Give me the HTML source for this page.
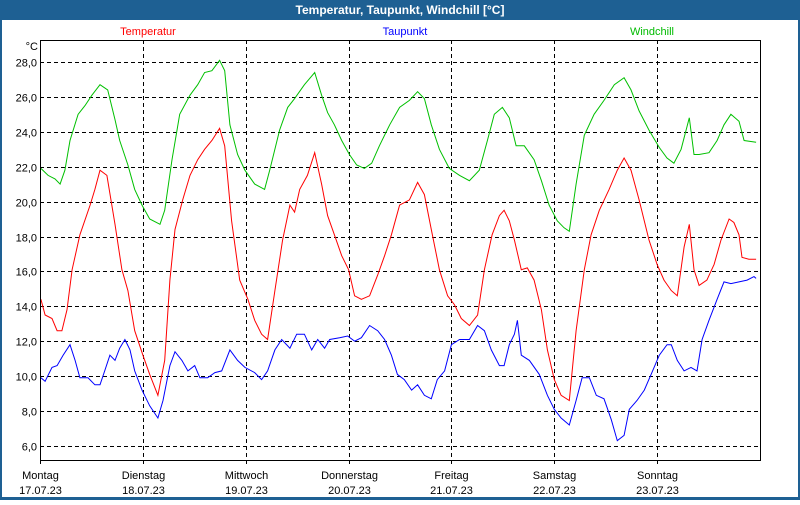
<!DOCTYPE html>
<html><head><meta charset="utf-8"><style>
body{margin:0;width:800px;height:500px;overflow:hidden;background:#fff;font-family:"Liberation Sans",sans-serif}
</style></head><body>
<svg width="800" height="500" xmlns="http://www.w3.org/2000/svg" font-family="Liberation Sans, sans-serif">
<rect x="0" y="0" width="800" height="500" fill="#1e6093"/>
<rect x="2" y="20" width="796" height="477" fill="#fff"/>
<text x="400" y="14" fill="#fff" font-size="12" font-weight="bold" text-anchor="middle">Temperatur, Taupunkt, Windchill [°C]</text>
<text x="148" y="35" fill="#ff0000" font-size="11" text-anchor="middle">Temperatur</text>
<text x="405" y="35" fill="#0000ff" font-size="11" text-anchor="middle">Taupunkt</text>
<text x="652" y="35" fill="#00bb00" font-size="11" text-anchor="middle">Windchill</text>
<text x="38" y="50" fill="#000" font-size="11" text-anchor="end">°C</text>
<g id="grid"></g>
<g id="series"></g>
<rect x="40.5" y="40.5" width="720" height="420" fill="none" stroke="#000" stroke-width="1"/>
<g id="labels"></g>
</svg>
<script>
const yTicks=[6,8,10,12,14,16,18,20,22,24,26,28];
const dayNames=["Montag","Dienstag","Mittwoch","Donnerstag","Freitag","Samstag","Sonntag"];
const dayDates=["17.07.23","18.07.23","19.07.23","20.07.23","21.07.23","22.07.23","23.07.23"];
const tempHours=[0.2,1.2,2.8,4.0,5.1,6.3,7.5,9.3,11.7,12.8,14.0,15.6,17.5,19.1,20.5,22.1,24.0,25.6,27.5,29.1,30.3,31.5,33.3,35.0,36.8,38.4,40.1,41.9,43.1,44.7,46.6,48.5,50.1,51.7,53.1,54.8,56.6,58.3,59.4,60.6,62.4,64.1,65.7,67.1,68.7,70.4,72.0,73.4,75.0,76.9,78.8,80.4,82.0,83.9,86.2,88.1,89.7,91.3,93.2,95.1,96.7,98.3,100.2,102.1,103.7,105.5,107.2,108.3,109.5,110.7,112.3,113.7,115.3,117.0,118.4,120.0,121.6,123.5,125.1,127.0,128.6,130.5,132.8,134.7,136.3,137.9,139.8,142.1,144.0,145.6,147.3,148.7,150.3,151.5,152.6,153.8,155.6,157.3,158.9,160.8,161.9,163.1,163.8,165.4,167.1];
const tempValues=[14.4,13.5,13.3,12.6,12.6,13.8,16.1,18.1,19.8,20.7,21.8,21.5,18.7,16.1,14.9,12.6,11.2,10.1,8.9,10.9,15.5,18.4,20.1,21.5,22.4,23.0,23.5,24.2,23.2,18.9,15.5,14.4,13.2,12.4,12.1,14.9,17.8,19.8,19.4,20.7,21.5,22.8,21.0,19.2,18.1,16.9,16.1,14.6,14.4,14.6,15.8,16.9,18.1,19.8,20.1,21.1,20.4,18.4,16.1,14.6,14.1,13.3,12.9,13.5,16.1,18.1,19.2,19.5,18.9,17.8,16.1,16.2,15.5,13.8,11.5,9.8,8.9,8.6,12.6,16.1,18.1,19.5,20.7,21.8,22.5,21.8,20.1,17.8,16.4,15.5,14.9,14.6,17.4,18.7,16.1,15.2,15.5,16.4,17.8,19.0,18.8,18.1,16.8,16.7,16.7];
const dewHours=[0.2,1.2,2.8,4.0,5.4,7.0,8.2,9.3,11.2,12.8,14.0,15.1,16.3,17.5,18.6,19.8,21.0,22.1,23.8,25.6,27.5,28.7,30.3,31.5,33.1,34.5,36.1,37.3,39.1,40.8,42.4,44.3,46.1,47.8,50.1,51.7,53.1,54.8,56.4,58.3,59.9,61.7,63.4,64.8,66.4,67.6,69.9,71.8,73.4,75.0,76.9,78.8,80.4,82.0,83.4,85.0,86.7,88.1,89.7,91.3,92.7,94.4,96.0,97.9,100.2,102.1,103.7,105.3,107.2,108.3,109.5,110.7,111.4,112.3,114.2,116.5,118.4,120.0,121.6,123.5,125.1,126.5,128.2,129.8,131.6,133.3,134.7,136.3,137.5,139.3,141.0,142.6,144.5,146.3,147.3,148.7,150.3,151.9,153.3,154.5,156.1,158.0,159.6,161.2,163.1,165.0,166.6,167.1];
const dewValues=[9.9,9.7,10.5,10.6,11.2,11.8,10.9,9.9,9.9,9.5,9.5,10.3,11.2,10.9,11.6,12.1,11.5,10.3,9.2,8.3,7.6,8.6,10.6,11.4,10.9,10.3,10.6,9.9,9.9,10.2,10.3,11.5,10.9,10.5,10.2,9.8,10.3,11.5,12.1,11.6,12.4,12.4,11.5,12.1,11.6,12.1,12.2,12.3,12.0,12.2,12.9,12.6,12.1,11.2,10.1,9.8,9.2,9.5,8.9,8.7,9.8,10.3,11.8,12.1,12.1,12.9,12.6,11.5,10.6,10.6,11.8,12.4,13.2,11.2,10.9,10.1,8.9,8.1,7.6,7.2,8.6,9.9,9.9,8.9,8.7,7.5,6.3,6.6,8.1,8.6,9.2,10.1,11.2,11.8,11.8,10.9,10.3,10.5,10.3,12.1,13.2,14.4,15.4,15.3,15.4,15.5,15.7,15.6];
const windHours=[0.2,1.9,3.5,4.7,5.8,7.0,8.9,10.5,12.1,14.0,15.8,17.5,18.6,20.5,22.1,23.8,25.6,28.0,29.1,30.8,32.6,35.0,36.8,38.4,40.1,41.9,43.1,44.3,46.1,47.8,50.1,52.4,53.6,55.9,57.8,59.4,61.7,64.1,65.7,67.1,68.7,70.4,72.2,73.9,75.7,77.4,79.2,81.6,83.9,86.2,88.1,89.7,91.3,93.2,95.5,97.9,100.2,102.5,104.4,106.0,107.9,109.5,111.1,113.0,115.3,117.0,118.8,120.7,122.3,123.5,125.1,127.0,129.3,131.6,134.0,136.3,137.9,139.8,142.1,144.5,146.3,147.9,149.6,151.5,152.6,153.8,156.1,158.0,159.6,161.2,163.1,164.3,167.1];
const windValues=[21.9,21.5,21.3,21.0,21.8,23.5,25.0,25.5,26.1,26.7,26.4,24.7,23.5,22.1,20.7,19.8,19.0,18.7,19.5,22.4,25.0,26.1,26.7,27.4,27.5,28.1,27.5,24.4,22.7,21.8,21.0,20.7,21.8,24.1,25.4,25.9,26.7,27.4,26.1,25.1,24.4,23.5,22.7,22.1,21.9,22.2,23.2,24.4,25.4,25.8,26.3,25.9,24.4,23.0,21.9,21.5,21.2,21.8,23.5,25.0,25.4,24.8,23.2,23.2,22.4,21.2,19.8,18.9,18.5,18.3,21.0,23.8,25.0,25.8,26.7,27.1,26.4,25.2,24.1,23.1,22.5,22.2,23.0,24.8,22.7,22.7,22.8,23.5,24.4,25.0,24.6,23.5,23.4];

const NS="http://www.w3.org/2000/svg";
const X0=40,X1=760,HMAX=168;
function xScale(h){return X0+h*(X1-X0)/HMAX;}
function yScale(v){return 62+(28-v)*17.45;}
const grid=document.getElementById('grid');
const labels=document.getElementById('labels');
const series=document.getElementById('series');
function mk(tag,attrs,parent){const e=document.createElementNS(NS,tag);for(const k in attrs)e.setAttribute(k,attrs[k]);parent.appendChild(e);return e;}
yTicks.forEach(v=>{
  const y=Math.round(yScale(v))+0.5;
  const l=mk('line',{x1:X0,x2:X1,y1:y,y2:y,stroke:'#000','stroke-dasharray':'4,3'},grid);
  
  
  const t=mk('text',{x:37,y:y+4,'font-size':11,'text-anchor':'end',fill:'#000'},labels);
  t.textContent=v.toFixed(1).replace('.',',');
  
  
});
dayNames.forEach((d,i)=>{
  const x=Math.round(xScale(i*24))+0.5;
  const l=mk('line',{x1:x,x2:x,y1:40,y2:466,stroke:'#000','stroke-dasharray':'4,3'},grid);
  
  
  const t=mk('text',{x:x,y:479,'font-size':11,'text-anchor':'middle',fill:'#000'},labels);
  t.textContent=d;
  
  
  const t2=mk('text',{x:x,y:494,'font-size':11,'text-anchor':'middle',fill:'#000'},labels);
  t2.textContent=dayDates[i];
  
  
});
function draw(hours,vals,color,name){
  const pts=hours.map((h,i)=>xScale(h).toFixed(1)+','+yScale(vals[i]).toFixed(1)).join(' ');
  const p=mk('polyline',{points:pts,fill:'none',stroke:color,'stroke-width':1},series);
  
  
}
draw(windHours,windValues,'#00c000','windchill-line');
draw(tempHours,tempValues,'#ff0000','temperatur-line');
draw(dewHours,dewValues,'#0000ff','taupunkt-line');
</script>
</body></html>
